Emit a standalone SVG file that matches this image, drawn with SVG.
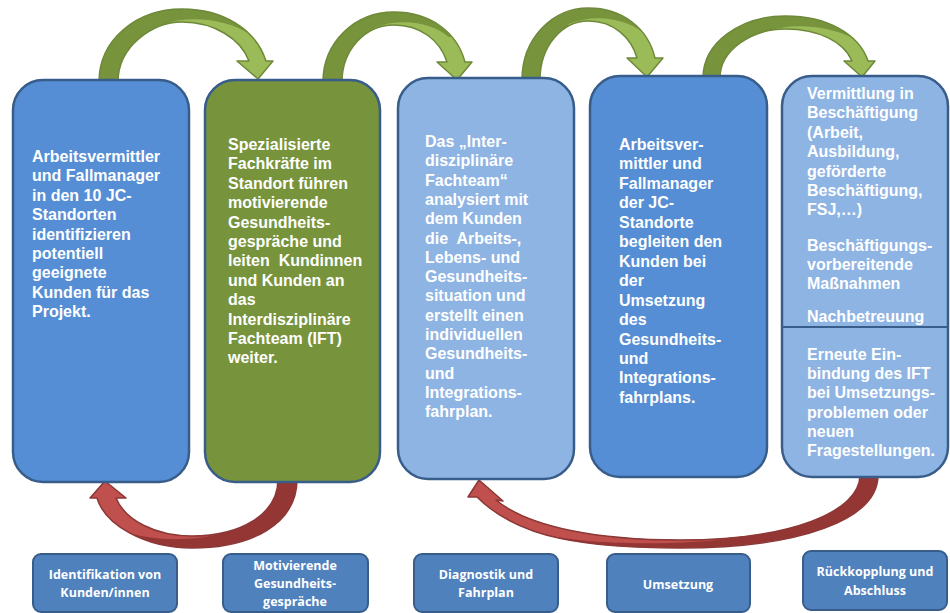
<svg xmlns="http://www.w3.org/2000/svg" xmlns:xlink="http://www.w3.org/1999/xlink" width="950" height="613" viewBox="0 0 950 613">
<style>
.box{stroke:#385D8A;stroke-width:2.5}
.b1{fill:#558ED5}.b2{fill:#77933C}.b3{fill:#8EB4E3}
.lab{fill:#4F81BD;stroke:#385D8A;stroke-width:2}
.t{font-family:"Liberation Sans",Arial,sans-serif;font-weight:bold;font-size:16px;fill:#fff}
.s{font-family:"Open Sans","Noto Sans",sans-serif;font-weight:bold;font-size:12.5px;fill:#fff;text-anchor:middle}
.gd{fill:#77933C}.gl{fill:#9BBB59}.go{fill:none;stroke:#6E8939;stroke-width:1.5;stroke-linejoin:round}
.rd{fill:#943634}.rl{fill:#C0504D}.ro{fill:none;stroke:#8C3836;stroke-width:1.5;stroke-linejoin:round}
</style>
<defs>
<path id="s1" d="M99,82 C99,40 136,9 182,9 C224,9 256,30 266,61 L273,61 L258,79 L237,61 L249,61 C241,39 214,22 182,22 C153,22 118,46 118,82 Z"/>
<path id="s2" d="M323,82 C323,42 355,12 394,12 C430,12 457,32 465,62 L472,62 L457,80 L437,62 L447,62 C440,40 420,25 394,25 C365,25 342,50 342,82 Z"/>
<path id="s3" d="M522,80 C522,39 552,8 588.5,8 C622,8 648,28 655,58 L663,58 L647,77 L627,58 L637,58 C631,37 613,21 588.5,21 C562,21 540,46 540,80 Z"/>
<path id="s4" d="M703,78 C703,43 740,16 785.5,16 C827,16 859,34 868,61 L875,61 L862,77 L844,61 L852,61 C844,42 819,29 785.5,29 C752,29 720,50 720,78 Z"/>
<path id="s5" d="M297,479 C297,525 250,548 192,548 C145,548 105,525 97,498 L90,498 L105,481 L126,498 L116,498 C125,520 155,536 192,536 C240,536 278,515 278,479 Z"/>
<path id="s6" d="M878,475 C878,520 800,548 680,548 C590,548 520,540 477,497 L468,497 L479,480 L503,501 L496,500 C530,528 600,540 680,540 C790,540 860,512 860,475 Z"/>
<clipPath id="c1"><use xlink:href="#s1"/></clipPath>
<clipPath id="c2"><use xlink:href="#s2"/></clipPath>
<clipPath id="c3"><use xlink:href="#s3"/></clipPath>
<clipPath id="c4"><use xlink:href="#s4"/></clipPath>
<clipPath id="c5"><use xlink:href="#s5"/></clipPath>
<clipPath id="c6"><use xlink:href="#s6"/></clipPath>
</defs>
<rect width="950" height="613" fill="#fff"/>
<g id="connectors">
<g id="arrow1"><use xlink:href="#s1" class="gd"/><path class="gl" clip-path="url(#c1)" d="M161.5,25 C190,14 228,20 249.4,34 L300,34 L300,95 L170,95 Z"/><use xlink:href="#s1" class="go"/></g>
<g id="arrow2"><use xlink:href="#s2" class="gd"/><path class="gl" clip-path="url(#c2)" d="M374,28 C401,17 433,23 448.4,37 L490,37 L490,95 L382,95 Z"/><use xlink:href="#s2" class="go"/></g>
<g id="arrow3"><use xlink:href="#s3" class="gd"/><path class="gl" clip-path="url(#c3)" d="M568.5,24 C595.5,13 625.5,19 642.3,32 L690,32 L690,95 L576,95 Z"/><use xlink:href="#s3" class="go"/></g>
<g id="arrow4"><use xlink:href="#s4" class="gd"/><path class="gl" clip-path="url(#c4)" d="M765.5,32 C793.5,21 831,27 852,37.5 L900,37.5 L900,95 L773,95 Z"/><use xlink:href="#s4" class="go"/></g>
<g id="arrow5"><use xlink:href="#s5" class="rd"/><path class="rl" clip-path="url(#c5)" d="M225.7,532.1 C195,542 155,541 129.9,533.1 L60,533 L60,470 L225.7,470 Z"/><use xlink:href="#s5" class="ro"/></g>
<g id="arrow6"><use xlink:href="#s6" class="rd"/><path class="rl" clip-path="url(#c6)" d="M741,536.9 C680,546 590,546 541,533.6 L440,533 L440,470 L741,470 Z"/><use xlink:href="#s6" class="ro"/></g>
</g>
<g id="node1">
<rect class="box b1" x="13" y="80" width="176" height="402" rx="30"/>
<text class="t" x="32" y="162"><tspan x="32">Arbeitsvermittler</tspan><tspan x="32" dy="19.4">und Fallmanager</tspan><tspan x="32" dy="19.4">in den 10 JC-</tspan><tspan x="32" dy="19.4">Standorten</tspan><tspan x="32" dy="19.4">identifizieren</tspan><tspan x="32" dy="19.4">potentiell</tspan><tspan x="32" dy="19.4">geeignete</tspan><tspan x="32" dy="19.4">Kunden für das</tspan><tspan x="32" dy="19.4">Projekt.</tspan></text>
</g>
<g id="node2">
<rect class="box b2" x="205" y="80" width="175" height="402" rx="30"/>
<text class="t" x="228" y="150"><tspan x="228">Spezialisierte</tspan><tspan x="228" dy="19.4">Fachkräfte im</tspan><tspan x="228" dy="19.4">Standort führen</tspan><tspan x="228" dy="19.4">motivierende</tspan><tspan x="228" dy="19.4">Gesundheits-</tspan><tspan x="228" dy="19.4">gespräche und</tspan><tspan x="228" dy="19.4">leiten&#160; Kundinnen</tspan><tspan x="228" dy="19.4">und Kunden an</tspan><tspan x="228" dy="19.4">das</tspan><tspan x="228" dy="19.4">Interdisziplinäre</tspan><tspan x="228" dy="19.4">Fachteam (IFT)</tspan><tspan x="228" dy="19.4">weiter.</tspan></text>
</g>
<g id="node3">
<rect class="box b3" x="398" y="78" width="176" height="401" rx="30"/>
<text class="t" x="425" y="147"><tspan x="425">Das „Inter-</tspan><tspan x="425" dy="19.3">disziplinäre</tspan><tspan x="425" dy="19.3">Fachteam“</tspan><tspan x="425" dy="19.3">analysiert mit</tspan><tspan x="425" dy="19.3">dem Kunden</tspan><tspan x="425" dy="19.3">die&#160; Arbeits-,</tspan><tspan x="425" dy="19.3">Lebens- und</tspan><tspan x="425" dy="19.3">Gesundheits-</tspan><tspan x="425" dy="19.3">situation und</tspan><tspan x="425" dy="19.3">erstellt einen</tspan><tspan x="425" dy="19.3">individuellen</tspan><tspan x="425" dy="19.3">Gesundheits-</tspan><tspan x="425" dy="19.3">und</tspan><tspan x="425" dy="19.3">Integrations-</tspan><tspan x="425" dy="19.3">fahrplan.</tspan></text>
</g>
<g id="node4">
<rect class="box b1" x="590" y="76" width="177" height="401" rx="30"/>
<text class="t" x="619" y="150"><tspan x="619">Arbeitsver-</tspan><tspan x="619" dy="19.45">mittler und</tspan><tspan x="619" dy="19.45">Fallmanager</tspan><tspan x="619" dy="19.45">der JC-</tspan><tspan x="619" dy="19.45">Standorte</tspan><tspan x="619" dy="19.45">begleiten den</tspan><tspan x="619" dy="19.45">Kunden bei</tspan><tspan x="619" dy="19.45">der</tspan><tspan x="619" dy="19.45">Umsetzung</tspan><tspan x="619" dy="19.45">des</tspan><tspan x="619" dy="19.45">Gesundheits-</tspan><tspan x="619" dy="19.45">und</tspan><tspan x="619" dy="19.45">Integrations-</tspan><tspan x="619" dy="19.45">fahrplans.</tspan></text>
</g>
<g id="node5">
<rect class="box b3" x="782" y="76" width="166" height="401" rx="30"/>
<line x1="783" y1="327" x2="948" y2="327" stroke="#385D8A" stroke-width="2"/>
<text class="t" x="807" y="99"><tspan x="807">Vermittlung in</tspan><tspan x="807" dy="19.4">Beschäftigung</tspan><tspan x="807" dy="19.4">(Arbeit,</tspan><tspan x="807" dy="19.4">Ausbildung,</tspan><tspan x="807" dy="19.4">geförderte</tspan><tspan x="807" dy="19.4">Beschäftigung,</tspan><tspan x="807" dy="19.4">FSJ,…)</tspan></text>
<text class="t" x="807" y="251"><tspan x="807">Beschäftigungs-</tspan><tspan x="807" dy="19.2">vorbereitende</tspan><tspan x="807" dy="19.2">Maßnahmen</tspan></text>
<text class="t" x="807" y="322">Nachbetreuung</text>
<text class="t" x="807" y="360"><tspan x="807">Erneute Ein-</tspan><tspan x="807" dy="19.2">bindung des IFT</tspan><tspan x="807" dy="19.2">bei Umsetzungs-</tspan><tspan x="807" dy="19.2">problemen oder</tspan><tspan x="807" dy="19.2">neuen</tspan><tspan x="807" dy="19.2">Fragestellungen.</tspan></text>
</g>
<g id="label1">
<rect class="lab" x="33" y="554" width="144" height="58" rx="8"/>
<text class="s" x="105" y="579"><tspan x="105">Identifikation von</tspan><tspan x="105" dy="18">Kunden/innen</tspan></text>
</g>
<g id="label2">
<rect class="lab" x="223" y="554" width="145" height="58" rx="8"/>
<text class="s" x="295" y="570"><tspan x="295">Motivierende</tspan><tspan x="295" dy="18">Gesundheits-</tspan><tspan x="295" dy="18">gespräche</tspan></text>
</g>
<g id="label3">
<rect class="lab" x="414" y="554" width="144" height="58" rx="8"/>
<text class="s" x="486" y="579"><tspan x="486">Diagnostik und</tspan><tspan x="486" dy="18">Fahrplan</tspan></text>
</g>
<g id="label4">
<rect class="lab" x="607" y="554" width="143" height="58" rx="8"/>
<text class="s" x="678" y="589">Umsetzung</text>
</g>
<g id="label5">
<rect class="lab" x="803" y="551" width="144" height="59" rx="8"/>
<text class="s" x="875" y="576"><tspan x="875">Rückkopplung und</tspan><tspan x="875" dy="18.5">Abschluss</tspan></text>
</g>
</svg>
